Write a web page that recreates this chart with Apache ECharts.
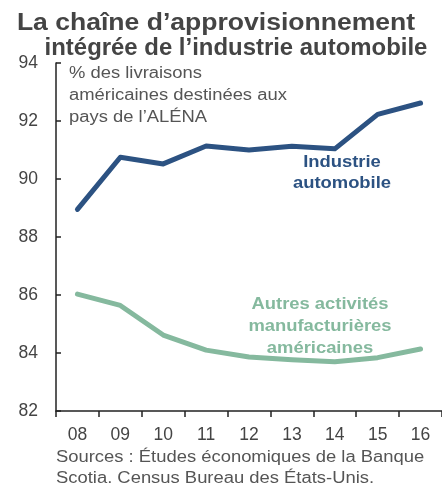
<!DOCTYPE html>
<html><head><meta charset="utf-8">
<script src="https://cdn.jsdelivr.net/npm/echarts@6/dist/echarts.min.js"></script>
<style>html,body{margin:0;padding:0;background:#fff}#c{width:442px;height:484px}</style>
</head><body><div id="c"></div>
<script>
const categories = ['08','09','10','11','12','13','14','15','16'];
const autoIndustry = [88.95, 90.75, 90.52, 91.14, 91.0, 91.13, 91.04, 92.23, 92.62];
const otherManufacturing = [86.03, 85.64, 84.62, 84.1, 83.86, 83.77, 83.7, 83.84, 84.14];
const yMin = 82, yMax = 94, yStep = 2;

const FONT = '"Liberation Sans", Arial, sans-serif';
function txt(x, y, text, font, fill, align, lh, sx) {
  return { type: 'text', x: x, y: y, scaleX: sx || 1.15,
    style: { text: text, x: 0, y: 0, textAlign: align, textVerticalAlign: 'top', lineHeight: lh, font: font, fill: fill } };
}
const chart = echarts.init(document.getElementById('c'));
chart.setOption({
  animation: false,
  backgroundColor: '#fff',
  grid: { left: 56, top: 63, width: 396, height: 348 },
  xAxis: {
    type: 'category', data: categories, boundaryGap: true,
    axisLine: { lineStyle: { color: '#222', width: 1.5 } },
    axisTick: { show: true, length: 6, lineStyle: { color: '#222', width: 1.5 } },
    axisLabel: { color: '#444', fontSize: 17.5, fontFamily: FONT, margin: 15 }
  },
  yAxis: {
    type: 'value', min: yMin, max: yMax, interval: yStep,
    splitLine: { show: false },
    axisLine: { show: true, lineStyle: { color: '#222', width: 1.5 } },
    axisTick: { show: true, inside: true, length: 5, lineStyle: { color: '#222', width: 1.5 } },
    axisLabel: { color: '#444', fontSize: 17.5, fontFamily: FONT, margin: 18 }
  },
  series: [
    { type: 'line', data: autoIndustry, symbol: 'none',
      lineStyle: { color: '#2c5282', width: 5, cap: 'round', join: 'round' } },
    { type: 'line', data: otherManufacturing, symbol: 'none',
      lineStyle: { color: '#85b99e', width: 5, cap: 'round', join: 'round' } }
  ],
  graphic: [
    txt(216, 11, 'La chaîne d’approvisionnement', 'bold 23px ' + FONT, '#444', 'center', 26, 1.154),
    txt(236, 36, 'intégrée de l’industrie automobile', 'bold 23px ' + FONT, '#444', 'center', 26, 1.04),
    txt(69, 63, '% des livraisons\naméricaines destinées aux\npays de l’ALÉNA', '16px ' + FONT, '#555', 'left', 22),
    txt(342, 152, 'Industrie\nautomobile', 'bold 16px ' + FONT, '#2c5282', 'center', 21),
    txt(320, 294, 'Autres activités\nmanufacturières\naméricaines', 'bold 16px ' + FONT, '#85b99e', 'center', 22),
    txt(56, 447, 'Sources : Études économiques de la Banque\nScotia. Census Bureau des États-Unis.', '16px ' + FONT, '#555', 'left', 21)
  ]
});
</script></body></html>
